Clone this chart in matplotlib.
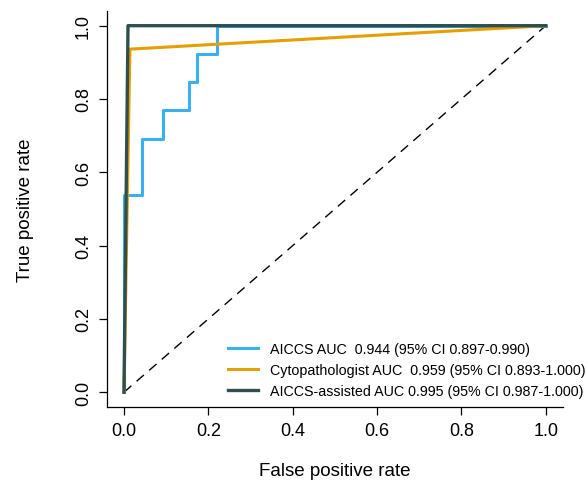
import matplotlib
matplotlib.use("Agg")
import matplotlib.pyplot as plt

plt.rcParams['font.family'] = ['Liberation Sans', 'DejaVu Sans']

# ROC points
aiccs_fpr = [0, 0, 0.042, 0.042, 0.092, 0.092, 0.155, 0.155, 0.172, 0.172, 0.221, 0.221, 1.0]
aiccs_tpr = [0, 0.538, 0.538, 0.692, 0.692, 0.769, 0.769, 0.846, 0.846, 0.923, 0.923, 1.0, 1.0]

cyto_fpr = [0, 0.014, 1.0]
cyto_tpr = [0, 0.936, 1.0]

assist_fpr = [0, 0.0095, 1.0]
assist_tpr = [0, 1.0, 1.0]

labels = [
    "AICCS AUC  0.944 (95% CI 0.897-0.990)",
    "Cytopathologist AUC  0.959 (95% CI 0.893-1.000)",
    "AICCS-assisted AUC 0.995 (95% CI 0.987-1.000)",
]
colors = ["#3AAFF2", "#E69F00", "#2F4F4F"]

ticks = [0.0, 0.2, 0.4, 0.6, 0.8, 1.0]

fig = plt.figure(figsize=(5.87, 4.81), dpi=100)
ax = fig.add_axes([0.1825, 0.152, 0.776, 0.823])

# chance line
ax.plot([0, 1], [0, 1], color="black", lw=1.0, dashes=(7, 5))

ax.plot(aiccs_fpr, aiccs_tpr, color=colors[0], lw=2.2, label=labels[0])
ax.plot(cyto_fpr, cyto_tpr, color=colors[1], lw=2.2, label=labels[1])
ax.plot(assist_fpr, assist_tpr, color=colors[2], lw=2.4, label=labels[2])

ax.set_xlim(-0.04, 1.04)
ax.set_ylim(-0.04, 1.04)
ax.set_xticks(ticks)
ax.set_yticks(ticks)
ax.set_xticklabels([f"{t:.1f}" for t in ticks])
ax.set_yticklabels([f"{t:.1f}" for t in ticks])
for lab in ax.get_yticklabels():
    lab.set_rotation(90)
    lab.set_va("center")

ax.spines["top"].set_visible(False)
ax.spines["right"].set_visible(False)
for s in ["left", "bottom"]:
    ax.spines[s].set_linewidth(0.9)
ax.tick_params(direction="out", length=6, width=0.9, labelsize=13, pad=5)

ax.set_xlabel("False positive rate", fontsize=13.5)
ax.set_ylabel("True positive rate", fontsize=13.5)
ax.xaxis.set_label_coords(0.5, -0.161)
ax.xaxis.label.set_va("center")
ax.yaxis.set_label_coords(-0.18, 0.5)
ax.yaxis.label.set_va("center")

ax.legend(loc="center left", bbox_to_anchor=(228 / 587, 1 - 371 / 481),
          bbox_transform=fig.transFigure, frameon=False, fontsize=10.3,
          handlelength=2.1, handletextpad=0.85, labelspacing=0.5,
          borderpad=0, borderaxespad=0)

fig.savefig("out.png", dpi=100)
